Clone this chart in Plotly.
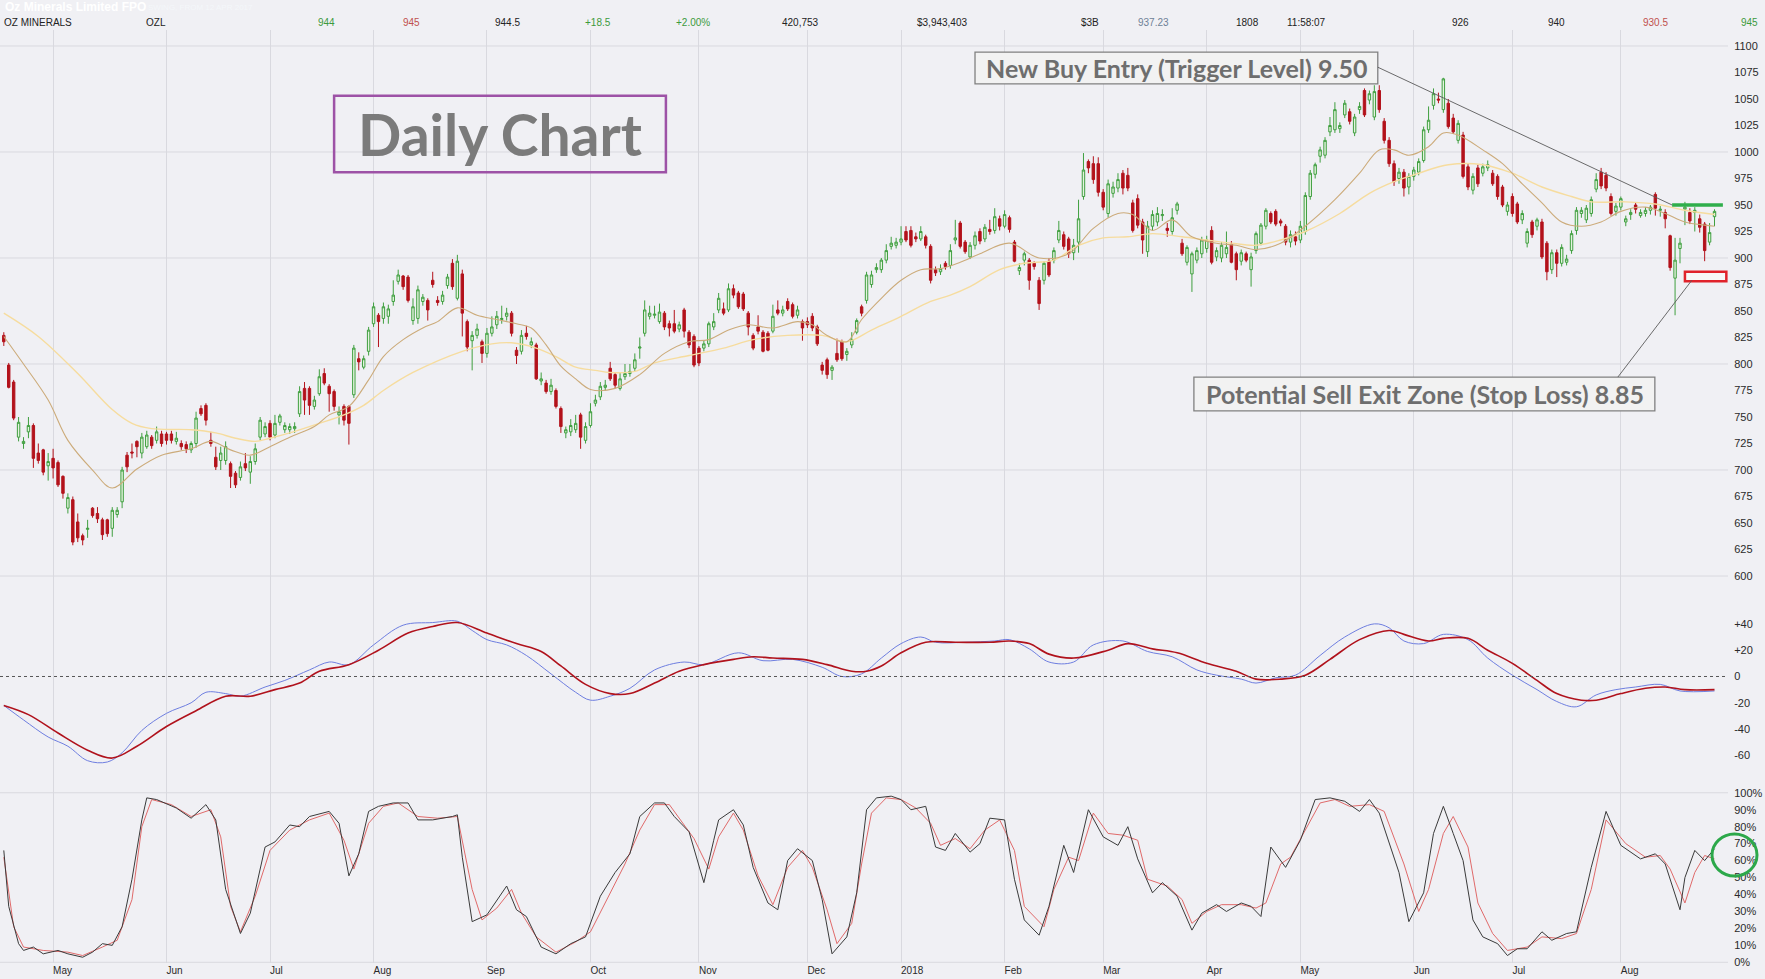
import pandas as pd
import plotly.graph_objects as go
from plotly.subplots import make_subplots

# OZL daily prices in cents, one value per ASX trading day from 12 Apr 2017
opens = [
    827, 799, 783, 731, 725, 736, 742, 716, 719, 704,
    711, 707, 694, 664, 672, 651, 638, 644, 664, 659,
    653, 653, 645, 658, 670, 714, 717, 727, 716, 722,
    731, 728, 734, 734, 734, 727, 725, 724, 719, 725,
    758, 761, 728, 712, 709, 709, 706, 697, 693, 706,
    698, 708, 731, 734, 744, 733, 745, 738, 738, 739,
    753, 777, 777, 760, 772, 791, 779, 774, 752, 760,
    760, 771, 805, 797, 812, 838, 846, 843, 845, 859,
    878, 883, 882, 841, 843, 859, 860, 879, 860, 859,
    874, 895, 862, 885, 840, 822, 827, 821, 810, 829,
    837, 842, 845, 848, 813, 812, 829, 818, 818, 784,
    782, 774, 775, 758, 735, 736, 738, 752, 728, 742,
    763, 769, 778, 796, 790, 777, 788, 791, 796, 815,
    829, 845, 846, 840, 848, 838, 838, 833, 851, 830,
    826, 815, 815, 819, 835, 851, 852, 851, 871, 867,
    866, 848, 827, 835, 830, 829, 831, 851, 848, 859,
    856, 846, 840, 840, 845, 835, 799, 804, 794, 810,
    821, 809, 818, 830, 854, 860, 875, 889, 889, 898,
    911, 912, 915, 925, 926, 920, 918, 920, 911, 889,
    887, 895, 893, 917, 933, 915, 901, 912, 925, 918,
    927, 926, 937, 930, 938, 915, 888, 898, 898, 895,
    879, 879, 897, 898, 917, 922, 918, 905, 915, 958,
    991, 989, 989, 962, 942, 961, 966, 980, 978, 952,
    956, 934, 906, 930, 934, 940, 928, 925, 945, 914,
    896, 885, 898, 904, 909, 926, 901, 900, 904, 913,
    904, 897, 904, 889, 907, 914, 930, 942, 944, 935,
    930, 915, 920, 917, 925, 958, 979, 996, 997, 1019,
    1021, 1022, 1035, 1038, 1018, 1040, 1058, 1049, 1033, 1058,
    1029, 1011, 989, 975, 981, 967, 977, 981, 992, 1021,
    1044, 1050, 1040, 1046, 1032, 1011, 1016, 986, 964, 985,
    980, 985, 980, 977, 967, 944, 958, 951, 936, 914,
    934, 930, 934, 914, 889, 905, 895, 896, 907, 926,
    942, 936, 942, 965, 981, 978, 958, 944, 948, 934,
    941, 950, 940, 942, 945, 960, 945, 943, 921, 881,
    909, 946, 943, 943, 937, 932, 915, 939,
]
highs = [
    830, 801, 785, 750, 731, 750, 744, 725, 720, 716,
    720, 709, 695, 678, 675, 659, 640, 653, 665, 665,
    655, 654, 665, 665, 703, 717, 725, 728, 735, 737,
    733, 741, 737, 736, 737, 736, 728, 727, 727, 755,
    761, 763, 736, 722, 722, 727, 708, 699, 708, 716,
    713, 725, 750, 745, 747, 752, 753, 745, 744, 745,
    779, 783, 779, 770, 795, 796, 781, 776, 760, 762,
    761, 818, 811, 808, 835, 858, 848, 858, 856, 879,
    889, 884, 884, 862, 874, 866, 862, 887, 864, 869,
    885, 899, 903, 889, 842, 831, 838, 823, 834, 845,
    850, 855, 853, 850, 816, 832, 836, 825, 820, 792,
    785, 786, 777, 760, 741, 748, 752, 754, 745, 763,
    771, 783, 785, 802, 792, 792, 800, 800, 810, 825,
    860, 855, 855, 857, 850, 841, 851, 840, 853, 832,
    828, 817, 822, 840, 848, 867, 858, 876, 875, 869,
    868, 850, 829, 846, 832, 831, 856, 860, 855, 862,
    858, 855, 842, 844, 848, 837, 802, 806, 799, 824,
    823, 815, 830, 843, 856, 887, 888, 895, 900, 913,
    920, 919, 930, 930, 930, 924, 930, 922, 913, 892,
    894, 897, 913, 936, 935, 917, 915, 925, 928, 932,
    936, 947, 940, 945, 940, 917, 895, 906, 900, 897,
    882, 897, 900, 910, 935, 925, 920, 918, 955, 999,
    993, 996, 995, 965, 974, 972, 980, 983, 985, 955,
    960, 937, 935, 945, 948, 946, 933, 947, 953, 918,
    912, 906, 910, 920, 921, 930, 910, 915, 925, 916,
    906, 908, 906, 905, 925, 933, 947, 944, 946, 937,
    932, 926, 925, 935, 962, 983, 990, 1005, 1014, 1033,
    1047, 1028, 1049, 1041, 1036, 1047, 1060, 1058, 1063, 1063,
    1032, 1014, 992, 985, 984, 980, 986, 994, 1024, 1043,
    1060, 1056, 1070, 1050, 1036, 1030, 1019, 989, 980, 988,
    989, 992, 983, 979, 969, 953, 961, 953, 945, 928,
    936, 938, 937, 916, 908, 908, 913, 903, 926, 948,
    948, 950, 958, 980, 985, 981, 961, 952, 958, 940,
    946, 952, 946, 948, 950, 962, 949, 946, 922, 919,
    919, 953, 947, 948, 941, 934, 933, 946,
]
lows = [
    817, 777, 747, 727, 720, 730, 702, 706, 695, 690,
    692, 684, 673, 659, 629, 632, 629, 636, 655, 650,
    634, 637, 637, 655, 664, 698, 711, 712, 711, 720,
    720, 725, 722, 724, 725, 724, 719, 716, 716, 721,
    751, 742, 722, 700, 700, 705, 683, 683, 690, 699,
    687, 705, 728, 731, 728, 730, 742, 735, 734, 735,
    750, 752, 752, 757, 770, 780, 755, 756, 743, 742,
    724, 768, 794, 795, 808, 835, 816, 838, 838, 855,
    875, 870, 858, 837, 838, 855, 841, 872, 855, 856,
    871, 870, 860, 826, 812, 794, 824, 801, 806, 826,
    833, 838, 841, 826, 800, 809, 823, 815, 785, 780,
    772, 771, 758, 735, 730, 732, 735, 720, 725, 740,
    760, 766, 775, 784, 777, 775, 785, 788, 793, 805,
    826, 842, 843, 838, 832, 826, 829, 830, 825, 815,
    797, 798, 812, 816, 832, 848, 846, 849, 862, 852,
    850, 827, 813, 828, 811, 812, 829, 846, 845, 850,
    843, 843, 822, 834, 831, 817, 790, 786, 785, 802,
    803, 803, 815, 828, 845, 857, 872, 886, 886, 895,
    908, 909, 912, 915, 910, 915, 916, 909, 876, 883,
    884, 889, 890, 913, 909, 904, 899, 908, 913, 915,
    922, 923, 926, 928, 924, 896, 884, 893, 870, 889,
    851, 875, 882, 895, 914, 908, 900, 898, 905, 955,
    980, 970, 958, 945, 938, 957, 962, 960, 963, 924,
    928, 904, 901, 926, 930, 935, 920, 922, 941, 902,
    893, 868, 895, 900, 905, 894, 897, 896, 900, 895,
    879, 893, 896, 873, 904, 912, 927, 932, 930, 930,
    912, 910, 912, 914, 922, 955, 975, 990, 994, 1015,
    1018, 1018, 1032, 1026, 1015, 1036, 1033, 1045, 1030, 1037,
    1008, 986, 968, 970, 958, 960, 973, 978, 990, 1018,
    1040, 1046, 1037, 1022, 1017, 1008, 975, 964, 960, 967,
    977, 982, 968, 955, 948, 940, 939, 932, 932, 910,
    919, 926, 899, 879, 885, 882, 892, 893, 904, 922,
    938, 933, 939, 962, 965, 963, 940, 940, 945, 930,
    936, 942, 938, 939, 941, 940, 939, 928, 888, 846,
    895, 931, 932, 925, 924, 897, 912, 930,
]
closes = [
    821, 778, 749, 745, 727, 742, 711, 709, 698, 708,
    702, 686, 678, 674, 632, 636, 634, 645, 657, 654,
    639, 640, 662, 662, 700, 703, 716, 722, 731, 733,
    723, 736, 725, 728, 728, 730, 722, 720, 725, 749,
    753, 747, 725, 703, 716, 722, 694, 686, 703, 702,
    708, 720, 747, 741, 731, 744, 751, 742, 741, 741,
    774, 766, 761, 766, 788, 782, 772, 760, 755, 747,
    744, 815, 802, 805, 832, 854, 840, 854, 852, 865,
    884, 873, 860, 854, 870, 863, 851, 875, 858, 865,
    882, 873, 897, 848, 816, 827, 833, 810, 829, 835,
    845, 843, 848, 829, 808, 827, 826, 821, 786, 786,
    774, 780, 760, 741, 738, 742, 744, 731, 741, 755,
    766, 779, 780, 786, 780, 786, 791, 793, 804, 816,
    851, 848, 847, 849, 835, 834, 831, 837, 831, 818,
    799, 801, 819, 838, 840, 862, 848, 871, 865, 854,
    852, 835, 815, 831, 812, 813, 845, 848, 851, 852,
    845, 851, 834, 837, 834, 819, 794, 790, 797, 804,
    805, 812, 823, 841, 848, 884, 884, 891, 898, 907,
    914, 915, 918, 917, 912, 918, 925, 912, 879, 886,
    890, 892, 907, 919, 911, 906, 912, 921, 916, 929,
    925, 939, 930, 941, 927, 897, 891, 904, 879, 892,
    857, 895, 884, 907, 926, 911, 904, 912, 937, 983,
    985, 974, 962, 948, 970, 967, 974, 966, 966, 926,
    931, 917, 930, 941, 942, 941, 926, 938, 951, 904,
    910, 904, 907, 917, 917, 896, 907, 912, 910, 896,
    889, 905, 898, 901, 923, 931, 945, 934, 932, 933,
    915, 922, 916, 930, 959, 980, 988, 1002, 1011, 1025,
    1040, 1025, 1046, 1029, 1033, 1043, 1035, 1055, 1057, 1040,
    1011, 989, 972, 981, 966, 977, 983, 991, 1021, 1030,
    1055, 1049, 1069, 1024, 1019, 1027, 977, 967, 977, 970,
    986, 988, 970, 958, 950, 950, 942, 934, 942, 925,
    922, 936, 901, 887, 905, 895, 910, 899, 923, 945,
    945, 947, 955, 974, 968, 966, 942, 949, 956, 937,
    943, 946, 943, 945, 948, 947, 946, 937, 891, 898,
    914, 948, 935, 945, 929, 907, 924, 944,
]
assert len(opens) == len(highs) == len(lows) == len(closes)

asx_holidays = [
    "2017-04-14", "2017-04-17", "2017-04-25", "2017-06-12", "2017-12-25",
    "2017-12-26", "2018-01-01", "2018-01-26", "2018-03-30", "2018-04-02",
    "2018-04-25", "2018-06-11",
]

# moving averages (trading day, cents)
ma_fast_day = [0, 4, 9, 13, 18, 22, 27, 32, 38, 42, 46, 50, 54, 58, 63, 66, 70, 74, 77, 81,
               85, 88, 92, 96, 100, 104, 107, 110, 113, 116, 119, 124, 129, 134, 139, 143,
               147, 151, 156, 161, 164, 167, 171, 174, 178, 182, 186, 190, 194, 198, 204,
               210, 216, 221, 226, 229, 233, 237, 241, 246, 250, 254, 259, 264, 270, 275,
               279, 282, 285, 289, 292, 295, 300, 304, 308, 312, 316, 320, 324, 328, 333,
               337, 341, 345, 347]
ma_fast_val = [826, 800, 766, 728, 700, 683, 701, 714, 720, 727, 719, 714, 722, 731, 741, 752,
               760, 785, 807, 823, 834, 840, 853, 846, 842, 838, 834, 818, 798, 786, 776, 777,
               790, 810, 821, 823, 832, 837, 834, 840, 837, 827, 821, 842, 862, 879, 889, 890,
               896, 904, 914, 900, 904, 928, 942, 941, 926, 936, 920, 914, 912, 908, 914, 930,
               955, 980, 1002, 1002, 997, 1005, 1018, 1016, 1002, 989, 970, 952, 934, 930, 934,
               944, 948, 942, 934, 931, 930]
ma_slow_day = [0, 7, 15, 22, 26, 30, 38, 43, 47, 51, 54, 58, 64, 69, 73, 77, 83, 93, 99, 103,
               108, 112, 116, 120, 123, 128, 132, 139, 146, 152, 159, 166, 171, 176, 182, 188,
               192, 196, 202, 207, 213, 218, 223, 228, 233, 239, 244, 249, 254, 259, 264, 271,
               277, 282, 287, 293, 300, 306, 312, 318, 322, 329, 335, 341, 347]
ma_slow_val = [848, 826, 791, 757, 744, 739, 738, 735, 730, 727, 730, 735, 744, 752, 761, 775,
               792, 812, 819, 820, 815, 807, 797, 794, 792, 793, 801, 808, 815, 823, 827, 827,
               821, 832, 845, 859, 865, 873, 889, 895, 898, 912, 919, 920, 923, 920, 917, 914,
               912, 917, 925, 942, 961, 972, 980, 988, 988, 980, 967, 958, 953, 953, 951, 945,
               941]

# MACD line and signal
macd_day = [0, 4, 9, 13, 17, 21, 24, 28, 33, 38, 41, 45, 48, 53, 57, 62, 66, 70, 75, 81, 87,
            92, 95, 98, 102, 106, 111, 116, 119, 123, 127, 132, 138, 142, 149, 154, 160, 166,
            170, 174, 178, 182, 186, 189, 195, 201, 204, 208, 212, 217, 221, 227, 232, 237,
            242, 246, 251, 254, 258, 262, 267, 272, 278, 281, 284, 288, 292, 297, 301, 306,
            311, 315, 319, 323, 327, 331, 336, 340, 347]
macd_val = [-22, -33, -46, -53, -64, -65, -58, -41, -28, -20, -12, -13, -15, -8, -3, 5, 11, 9,
            24, 39, 41, 42, 35, 28, 24, 16, 2, -12, -18, -15, -9, 5, 11, 9, 18, 12, 13, 7, 0,
            2, 14, 25, 30, 26, 26, 27, 28, 21, 11, 11, 24, 27, 19, 15, 5, 1, -2, -5, -1, 1,
            16, 30, 40, 37, 27, 25, 32, 28, 14, 1, -10, -19, -23, -14, -10, -8, -6, -11, -11]
signal_day = [0, 5, 11, 17, 22, 27, 33, 39, 45, 50, 55, 60, 64, 70, 76, 82, 87, 92, 98, 104,
              109, 113, 118, 123, 127, 132, 137, 142, 148, 152, 156, 162, 167, 172, 175, 178,
              182, 187, 193, 200, 204, 208, 212, 217, 224, 228, 233, 238, 244, 250, 254, 259,
              264, 269, 275, 281, 284, 289, 292, 297, 301, 306, 311, 315, 320, 323, 328, 333,
              337, 341, 347]
signal_val = [-22, -29, -43, -56, -62, -53, -38, -26, -15, -15, -10, -5, 4, 9, 20, 33, 38, 41,
              33, 25, 19, 8, -6, -13, -13, -5, 4, 9, 13, 15, 14, 13, 9, 4, 4, 8, 18, 26, 26,
              26, 27, 25, 17, 14, 20, 25, 21, 18, 10, 4, -2, -2, 1, 13, 28, 35, 32, 27, 29,
              29, 20, 10, -3, -13, -18, -18, -13, -9, -8, -10, -10]

# stochastic %K and %D
stoch_k_day = [0, 1, 3, 4, 6, 8, 11, 13, 16, 18, 20, 22, 24, 26, 28, 29, 31, 35, 38, 41, 43,
               45, 48, 50, 53, 55, 58, 60, 62, 66, 68, 70, 72, 74, 76, 79, 82, 84, 87, 91, 92,
               93, 95, 98, 102, 104, 106, 109, 112, 115, 118, 121, 124, 127, 129, 132, 134,
               136, 139, 142, 144, 145, 148, 150, 152, 155, 157, 159, 161, 164, 166, 168, 171,
               173, 175, 177, 180, 182, 184, 187, 189, 191, 193, 196, 198, 200, 203, 205, 207,
               210, 212, 215, 217, 220, 223, 226, 228, 230, 233, 235, 238, 241, 243, 246, 248,
               251, 253, 255, 257, 260, 263, 266, 269, 272, 275, 277, 279, 283, 285, 288, 290,
               292, 294, 296, 298, 300, 303, 305, 307, 309, 312, 314, 317, 319, 322, 325, 328,
               332, 335, 337, 340, 341, 343, 345, 347]
stoch_k_val = [66, 33, 11, 7, 9, 5, 7, 5, 3, 6, 11, 10, 21, 49, 84, 97, 96, 91, 85, 93, 84,
               43, 17, 29, 68, 71, 81, 80, 86, 89, 82, 51, 64, 89, 92, 94, 94, 84, 84, 86, 87,
               62, 24, 28, 45, 31, 27, 9, 5, 11, 15, 39, 53, 64, 86, 94, 94, 86, 77, 47, 72,
               84, 90, 81, 56, 35, 31, 60, 67, 60, 37, 5, 15, 41, 90, 97, 98, 96, 90, 92, 68,
               66, 76, 65, 70, 85, 84, 49, 25, 16, 33, 69, 53, 90, 74, 69, 80, 61, 41, 47, 39,
               19, 29, 34, 30, 35, 33, 27, 68, 56, 72, 96, 97, 95, 89, 96, 88, 53, 24, 41, 76,
               92, 76, 60, 25, 15, 11, 4, 8, 8, 18, 13, 17, 18, 56, 89, 69, 61, 64, 58, 31, 50,
               66, 60, 67]
stoch_d_day = [0, 2, 4, 8, 13, 16, 20, 23, 26, 28, 30, 34, 38, 42, 44, 46, 48, 51, 54, 58, 62,
               66, 69, 71, 74, 77, 80, 84, 88, 92, 95, 97, 100, 103, 105, 108, 112, 116, 119,
               123, 126, 129, 132, 135, 137, 140, 143, 145, 148, 150, 153, 156, 159, 162, 164,
               167, 169, 172, 174, 176, 179, 182, 185, 188, 190, 193, 196, 199, 202, 205, 207,
               211, 213, 216, 218, 221, 224, 227, 230, 232, 236, 239, 241, 244, 247, 251, 254,
               256, 259, 261, 264, 267, 270, 273, 277, 280, 284, 287, 289, 292, 294, 297, 299,
               302, 305, 309, 312, 316, 319, 322, 325, 329, 333, 336, 338, 341, 343, 345, 347]
stoch_d_val = [62, 21, 9, 7, 6, 4, 9, 13, 37, 80, 96, 93, 86, 90, 74, 33, 18, 39, 66, 78, 84,
               88, 72, 55, 82, 92, 94, 86, 85, 86, 43, 25, 32, 43, 29, 15, 6, 12, 18, 41, 58,
               78, 93, 93, 85, 73, 55, 74, 88, 78, 51, 34, 56, 66, 56, 31, 11, 23, 58, 88, 97,
               96, 91, 82, 69, 73, 67, 78, 84, 66, 33, 21, 43, 62, 60, 88, 76, 75, 72, 49, 45,
               37, 23, 30, 34, 34, 32, 35, 58, 62, 78, 94, 96, 92, 93, 89, 58, 30, 43, 76, 86,
               68, 35, 17, 7, 9, 15, 14, 17, 43, 84, 70, 62, 63, 55, 35, 53, 63, 61]

price_ticks = list(range(600, 1101, 25))
price_grid = [600, 700, 800, 900, 1000, 1100]
macd_ticks = [40, 20, 0, -20, -40, -60]
macd_tick_text = ["+40", "+20", "0", "-20", "-40", "-60"]
stoch_ticks = list(range(0, 101, 10))

# trade plan levels (day, cents)
trend_start = (292, 1068)
trend_end = (351, 925)
buy_level = 950
stop_zone = (878, 887)

header_title = "Oz Minerals Limited FPO"
header_sub = "SWING, FROM 12 APR 2017"
header_cells = [
    (337, "944", "#3c9a3c"), (422, "945", "#c0504d"), (522, "944.5", "#222222"),
    (613, "+18.5", "#3c9a3c"), (712, "+2.00%", "#3c9a3c"), (821, "420,753", "#222222"),
    (969, "$3,943,403", "#222222"), (1101, "$3B", "#222222"), (1171, "937.23", "#6e8096"),
    (1261, "1808", "#222222"), (1328, "11:58:07", "#222222"), (1471, "926", "#222222"),
    (1567, "940", "#222222"), (1670, "930.5", "#c0504d"), (1760, "945", "#3c9a3c"),
]

n = len(closes)
days = pd.bdate_range("2017-04-12", periods=n, freq="C", holidays=asx_holidays)
x = list(range(n))
month_starts = [i for i in range(1, n) if days[i].month != days[i - 1].month]
month_text = ["2018" if days[i].month == 1 else days[i].strftime("%b") for i in month_starts]

BG = "#f0f0f4"
GRID = "#d9d9df"
W, H = 1765, 979
ML, MR, MT, MB = 0, 37, 30, 16
PW, PH = W - ML - MR, H - MT - MB


def px(xr):
    return (xr - ML) / PW


def py(yr):
    return (H - MB - yr) / PH


fig = make_subplots(rows=3, cols=1, shared_xaxes=True, vertical_spacing=0,
                    row_heights=[574, 173, 186])

fig.add_trace(go.Candlestick(
    x=x, open=opens, high=highs, low=lows, close=closes,
    increasing=dict(line=dict(color="#3f9f3f", width=1), fillcolor="#e4f3df"),
    decreasing=dict(line=dict(color="#b3121b", width=1), fillcolor="#b3121b"),
    whiskerwidth=0, showlegend=False, hoverinfo="skip",
), row=1, col=1)
fig.add_trace(go.Scatter(x=ma_slow_day, y=ma_slow_val, mode="lines",
                         line=dict(color="#f6dc9e", width=1.4, shape="spline"),
                         showlegend=False, hoverinfo="skip"), row=1, col=1)
fig.add_trace(go.Scatter(x=ma_fast_day, y=ma_fast_val, mode="lines",
                         line=dict(color="#ccab7a", width=1.1, shape="spline"),
                         showlegend=False, hoverinfo="skip"), row=1, col=1)

fig.add_trace(go.Scatter(x=macd_day, y=macd_val, mode="lines",
                         line=dict(color="#6e7ee0", width=1, shape="spline"),
                         showlegend=False, hoverinfo="skip"), row=2, col=1)
fig.add_trace(go.Scatter(x=signal_day, y=signal_val, mode="lines",
                         line=dict(color="#b0121c", width=1.6, shape="spline"),
                         showlegend=False, hoverinfo="skip"), row=2, col=1)

fig.add_trace(go.Scatter(x=stoch_d_day, y=stoch_d_val, mode="lines",
                         line=dict(color="#e06a6a", width=1),
                         showlegend=False, hoverinfo="skip"), row=3, col=1)
fig.add_trace(go.Scatter(x=stoch_k_day, y=stoch_k_val, mode="lines",
                         line=dict(color="#3a3a3a", width=1),
                         showlegend=False, hoverinfo="skip"), row=3, col=1)

tick_font = dict(family="Liberation Sans", size=11, color="#2a2a2a")
x_right = (PW - 3.8) / 4.93
for r in (1, 2, 3):
    fig.update_xaxes(row=r, col=1, range=[-0.77, x_right], tickvals=month_starts,
                     ticktext=month_text, showgrid=True, gridcolor=GRID, gridwidth=1,
                     zeroline=False, showline=False, ticks="", showticklabels=(r == 3),
                     tickfont=dict(family="Liberation Sans", size=10, color="#2a2a2a"),
                     ticklabelposition="outside right")
fig.update_xaxes(rangeslider_visible=False)

fig.update_yaxes(row=1, col=1, side="right", range=[573.6, 1115.1], tickvals=price_ticks,
                 showgrid=False, zeroline=False, ticks="outside", ticklen=3, tickcolor=BG,
                 tickfont=tick_font)
fig.update_yaxes(row=2, col=1, side="right", range=[-76.4, 55.1], tickvals=macd_ticks,
                 ticktext=macd_tick_text, showgrid=False, zeroline=False, ticks="outside",
                 ticklen=3, tickcolor=BG, tickfont=tick_font)
fig.update_yaxes(row=3, col=1, side="right", range=[-0.4, 109.3], tickvals=stoch_ticks,
                 ticktext=[f"{v}%" for v in stoch_ticks], showgrid=False, zeroline=False,
                 ticks="outside", ticklen=3, tickcolor=BG, tickfont=tick_font)

for v in price_grid:
    fig.add_hline(y=v, line=dict(color=GRID, width=1), layer="below", row=1, col=1)
for v in (0, 100):
    fig.add_hline(y=v, line=dict(color=GRID, width=1), layer="below", row=3, col=1)
fig.add_hline(y=0, line=dict(color="#555555", width=1, dash="dot"), row=2, col=1)

shapes = []
# MACD panel background and panel separators
shapes.append(dict(type="rect", xref="paper", yref="paper", x0=0, x1=px(W), y0=py(777),
                   y1=py(604), fillcolor="#e9e9ee", line=dict(width=0), layer="below"))
for yr in (604, 777):
    shapes.append(dict(type="line", xref="paper", yref="paper", x0=0, x1=px(W), y0=py(yr),
                       y1=py(yr), line=dict(color="#d2d2d8", width=1)))

# header bars
shapes.append(dict(type="rect", xref="paper", yref="paper", x0=0, x1=px(W), y0=py(15),
                   y1=py(0), fillcolor="#86a4bb", line=dict(width=0)))
shapes.append(dict(type="rect", xref="paper", yref="paper", x0=0, x1=px(W), y0=py(29),
                   y1=py(15.5), fillcolor="#fbfbfb", line=dict(color="#d6d6d6", width=1)))
shapes.append(dict(type="rect", xref="paper", yref="paper", x0=px(430), x1=px(527),
                   y0=py(28.5), y1=py(16), fillcolor="#d3efcf", line=dict(width=0)))
shapes.append(dict(type="rect", xref="paper", yref="paper", x0=px(973), x1=px(1011),
                   y0=py(27), y1=py(17.5), fillcolor="#a9dca2", line=dict(width=0)))
shapes.append(dict(type="rect", xref="paper", yref="paper", x0=0, x1=px(W), y0=py(H),
                   y1=py(976), fillcolor="#2d2d2d", line=dict(width=0)))

# trend line, buy trigger and stop zone
shapes.append(dict(type="line", xref="x", yref="y", x0=trend_start[0], y0=trend_start[1],
                   x1=trend_end[0], y1=trend_end[1], line=dict(color="#36a3d9", width=1.3)))
shapes.append(dict(type="rect", xref="x", yref="y", x0=338.4, x1=348.7, y0=buy_level - 1.7,
                   y1=buy_level + 1.7, fillcolor="#2fae4b", line=dict(width=0)))
shapes.append(dict(type="rect", xref="x", yref="y", x0=341, x1=349.4, y0=stop_zone[0],
                   y1=stop_zone[1], fillcolor="#f7f7f7", line=dict(color="#e0222b", width=2.5)))

# annotation boxes and leader lines
shapes.append(dict(type="rect", xref="x", yref="y", x0=67.0, x1=134.3, y0=981, y1=1053,
                   line=dict(color="#9d52a6", width=2.5)))
shapes.append(dict(type="rect", xref="x", yref="y", x0=197.0, x1=278.7, y0=1064.2,
                   y1=1094.3, fillcolor="#f2f2f2", line=dict(color="#808080", width=1.3)))
shapes.append(dict(type="rect", xref="x", yref="y", x0=241.4, x1=334.9, y0=755.7,
                   y1=787.7, fillcolor="#f2f2f2", line=dict(color="#808080", width=1.3)))
shapes.append(dict(type="line", xref="x", yref="y", x0=278.7, y0=1080, x1=338.4,
                   y1=buy_level, line=dict(color="#5a5a5a", width=0.9)))
shapes.append(dict(type="line", xref="x", yref="y", x0=327.4, y0=787.7, x1=342.4,
                   y1=879, line=dict(color="#5a5a5a", width=0.9)))

# highlight on the stochastic turn
shapes.append(dict(type="circle", xref="paper", yref="paper", x0=px(1712), x1=px(1757),
                   y0=py(876), y1=py(834), line=dict(color="#2ca84a", width=3)))

annotations = [
    dict(xref="x", yref="y", x=100.7, y=1017, text="<b>Daily Chart</b>", showarrow=False,
         font=dict(family="Lato", size=57, color="#7b7b7b")),
    dict(xref="x", yref="y", x=237.9, y=1079.3, text="<b>New Buy Entry (Trigger Level) 9.50</b>",
         showarrow=False, font=dict(family="Lato", size=25, color="#6e6e6e")),
    dict(xref="x", yref="y", x=288.2, y=771.7,
         text="<b>Potential Sell Exit Zone (Stop Loss) 8.85</b>",
         showarrow=False, font=dict(family="Lato", size=25, color="#6e6e6e")),
    dict(xref="paper", yref="paper", x=px(3), y=py(7.5), xanchor="left", yanchor="middle",
         text=f"<b>{header_title}</b>", showarrow=False,
         font=dict(family="Liberation Sans", size=12, color="#ffffff")),
    dict(xref="paper", yref="paper", x=px(146), y=py(8), xanchor="left", yanchor="middle",
         text=header_sub, showarrow=False,
         font=dict(family="Liberation Sans", size=8, color="#f4f7fa")),
    dict(xref="paper", yref="paper", x=px(2), y=py(22.5), xanchor="left", yanchor="middle",
         text="OZ MINERALS", showarrow=False,
         font=dict(family="Liberation Sans", size=10, color="#222222")),
    dict(xref="paper", yref="paper", x=px(144), y=py(22.5), xanchor="left", yanchor="middle",
         text="OZL", showarrow=False,
         font=dict(family="Liberation Sans", size=10, color="#222222")),
]
for xr, txt, col in header_cells:
    annotations.append(dict(xref="paper", yref="paper", x=px(xr), y=py(22.5), xanchor="right",
                            yanchor="middle", text=txt, showarrow=False,
                            font=dict(family="Liberation Sans", size=10, color=col)))

fig.update_layout(
    width=W, height=H, autosize=False,
    margin=dict(l=ML, r=MR, t=MT, b=MB),
    paper_bgcolor=BG, plot_bgcolor=BG,
    showlegend=False, hovermode=False,
    shapes=shapes, annotations=annotations,
)

# drop the default page margin so the figure fills the window exactly
fig.write_html("out.html", config={"displayModeBar": False},
               post_script="document.body.style.margin='0';document.body.style.overflow='hidden';")
